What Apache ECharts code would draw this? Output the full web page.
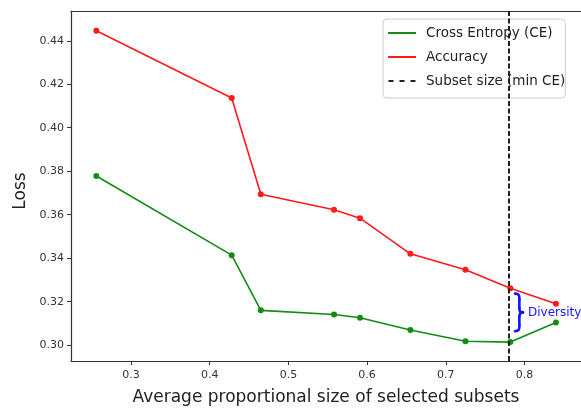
<!DOCTYPE html>
<html>
<head>
<meta charset="utf-8">
<script src="https://cdn.jsdelivr.net/npm/echarts@6/dist/echarts.min.js"></script>
<style>
  html, body { margin: 0; padding: 0; background: #fff; }
  #chart { width: 581px; height: 411px; }
</style>
</head>
<body>
<div id="chart"></div>
<script>
// Average proportional subset size (x) and the two loss curves (y)
const sizes        = [0.256, 0.428, 0.465, 0.558, 0.591, 0.655, 0.725, 0.782, 0.840];
const crossEntropy = [0.3778, 0.3414, 0.3160, 0.3141, 0.3126, 0.3070, 0.3018, 0.3014, 0.3104];
const accuracy     = [0.4446, 0.4137, 0.3694, 0.3623, 0.3584, 0.3420, 0.3347, 0.3262, 0.3190];

const xTicks = [0.3, 0.4, 0.5, 0.6, 0.7, 0.8];
const yTicks = [0.30, 0.32, 0.34, 0.36, 0.38, 0.40, 0.42, 0.44];

const seriesNames = ['Cross Entropy (CE)', 'Accuracy', 'Subset size (min CE)'];
const xTitle = 'Average proportional size of selected subsets';
const yTitle = 'Loss';
const braceText = 'Diversity';

// subset size where cross entropy is lowest
let minIdx = 0;
crossEntropy.forEach((v, i) => { if (v < crossEntropy[minIdx]) minIdx = i; });
const minCeSize = sizes[minIdx];

const FONT = 'DejaVu Sans';
const GREEN = '#128c12';
const RED = '#ff1a1a';
const BLUE = '#1414ff';
const pairs = (xs, ys) => xs.map((x, i) => [x, ys[i]]);

const chart = echarts.init(document.getElementById('chart'), null, { renderer: 'canvas' });

const option = {
  animation: false,
  backgroundColor: '#ffffff',
  textStyle: { fontFamily: FONT },
  grid: { left: 71, top: 11, right: 0, bottom: 47, containLabel: false },
  xAxis: [
    {
      type: 'value', min: 0.2238, max: 0.8718, position: 'bottom',
      splitLine: { show: false },
      axisLine: { show: true, onZero: false, lineStyle: { color: '#333', width: 1.2 } },
      axisTick: { show: true, length: 4, lineStyle: { color: '#333' }, customValues: xTicks },
      axisLabel: { customValues: xTicks, color: '#333', fontSize: 11, fontFamily: FONT, margin: 9,
                   formatter: v => v.toFixed(1) },
      name: xTitle, nameLocation: 'middle', nameGap: 28,
      nameTextStyle: { fontSize: 17, color: '#222', fontFamily: FONT }
    },
    {
      type: 'value', min: 0.2238, max: 0.8718, position: 'top',
      splitLine: { show: false },
      axisLine: { show: true, onZero: false, lineStyle: { color: '#333', width: 1.2 } },
      axisTick: { show: false }, axisLabel: { show: false }
    }
  ],
  yAxis: {
    type: 'value', min: 0.2927, max: 0.4537,
    splitLine: { show: false },
    axisLine: { show: true, onZero: false, lineStyle: { color: '#333', width: 1.2 } },
    axisTick: { show: true, length: 4, lineStyle: { color: '#333' }, customValues: yTicks },
    axisLabel: { customValues: yTicks, color: '#333', fontSize: 11, fontFamily: FONT, margin: 7,
                 formatter: v => v.toFixed(2) },
    name: yTitle, nameLocation: 'middle', nameGap: 38,
    nameTextStyle: { fontSize: 17, color: '#222', fontFamily: FONT, padding: [0, 10, 0, 0] }
  },
  legend: {
    left: 383, top: 19, orient: 'vertical',
    itemWidth: 28, itemHeight: 2, itemGap: 10,
    padding: [7, 0, 10, 5],
    backgroundColor: 'rgba(255,255,255,0.8)',
    borderColor: '#cccccc', borderWidth: 1, borderRadius: 4,
    textStyle: { fontSize: 13.5, color: '#222', fontFamily: FONT, padding: [0, 0, 0, 5] },
    data: [
      { name: seriesNames[0], icon: 'path://M0,0H28V2H0Z' },
      { name: seriesNames[1], icon: 'path://M0,0H28V2H0Z' },
      { name: seriesNames[2], icon: 'path://M0,0H5V2H0Z M11,0H16V2H11Z M22,0H27V2H22Z' }
    ]
  },
  series: [
    {
      name: seriesNames[0], type: 'line', data: pairs(sizes, crossEntropy),
      color: GREEN,
      lineStyle: { width: 1.6, color: GREEN },
      symbol: 'circle', symbolSize: 6, itemStyle: { color: GREEN }, z: 3
    },
    {
      name: seriesNames[1], type: 'line', data: pairs(sizes, accuracy),
      color: RED,
      lineStyle: { width: 1.6, color: RED },
      symbol: 'circle', symbolSize: 6, itemStyle: { color: RED }, z: 3
    },
    {
      name: seriesNames[2], type: 'line', data: [],
      color: '#222',
      lineStyle: { color: '#222', type: 'dashed' },
      markLine: {
        silent: true, symbol: ['none', 'none'], label: { show: false },
        lineStyle: { color: '#222', width: 2, type: [5, 2.5] },
        data: [{ xAxis: minCeSize }]
      },
      z: 4
    }
  ]
};
chart.setOption(option);

// Curly brace and label marking the gap between the two curves just past the vertical line
const braceX = minCeSize + 0.011;
const topPt = chart.convertToPixel({ xAxisIndex: 0, yAxisIndex: 0 }, [braceX, accuracy[minIdx] - 0.0025]);
const botPt = chart.convertToPixel({ xAxisIndex: 0, yAxisIndex: 0 }, [braceX, crossEntropy[minIdx] + 0.0050]);
const h = botPt[1] - topPt[1];
const w = 8;
const s = w * 0.55;
const m = h / 2;
const bx = topPt[0] - 4;
const by = topPt[1];
const braceStyle = { fill: null, stroke: BLUE, lineWidth: 2.6, lineCap: 'round' };
const bez = (x1, y1, cx1, cy1, cx2, cy2, x2, y2) => ({
  type: 'bezierCurve', x: bx, y: by, z: 10,
  shape: { x1, y1, cpx1: cx1, cpy1: cy1, cpx2: cx2, cpy2: cy2, x2, y2 },
  style: braceStyle
});
const seg = (x1, y1, x2, y2) => ({
  type: 'line', x: bx, y: by, z: 10,
  shape: { x1, y1, x2, y2 }, style: braceStyle
});

chart.setOption({
  graphic: [
    bez(0, 0, s, 0, s, 2, s, 6),
    seg(s, 6, s, m - 4),
    bez(s, m - 4, s, m - 1, w * 0.75, m, w, m),
    bez(w, m, w * 0.75, m, s, m + 1, s, m + 4),
    seg(s, m + 4, s, h - 6),
    bez(s, h - 6, s, h - 2, s, h, 0, h),
    {
      type: 'text', x: bx + w + 5, y: by + m, z: 10,
      style: { text: braceText, fill: BLUE, font: '12px "' + FONT + '"', verticalAlign: 'middle', align: 'left' }
    }
  ]
});
</script>
</body>
</html>
